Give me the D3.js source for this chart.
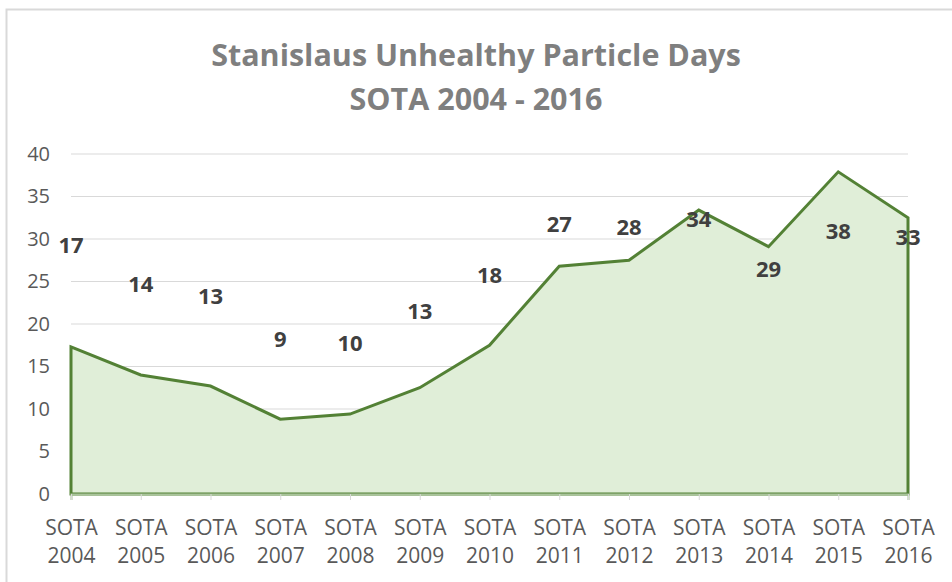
<!DOCTYPE html>
<html>
<head>
<meta charset="utf-8">
<script src="https://cdn.jsdelivr.net/npm/d3@7"></script>
<style>
  html, body { margin: 0; padding: 0; background: #fff; }
  svg text { font-family: 'Open Sans', Lato, sans-serif; }
  .grid line { stroke: #d9d9d9; stroke-width: 1; }
</style>
</head>
<body>
<svg id="chart" width="952" height="582"></svg>
<script>
  // categories along the bottom
  var YEARS = ['2004', '2005', '2006', '2007', '2008', '2009', '2010',
               '2011', '2012', '2013', '2014', '2015', '2016'];

  // plotted values
  var DAYS = [17.3, 14.0, 12.7, 8.8, 9.4, 12.5, 17.5, 26.8, 27.5, 33.4, 29.1, 37.9, 32.5];

  // the data labels as shown on the chart
  var LABELS = [17, 14, 13, 9, 10, 13, 18, 27, 28, 34, 29, 38, 33];

  // where each data label sits, in axis units (labels were dragged around in the original)
  var LABEL_LEVEL = [29.3, 24.7, 23.3, 18.2, 17.7, 21.5, 25.8, 31.8, 31.4, 32.4, 26.5, 30.9, 30.2];

  var Y_TICKS = [0, 5, 10, 15, 20, 25, 30, 35, 40];

  var TITLE = ['Stanislaus Unhealthy Particle Days', 'SOTA 2004 - 2016'];

  var svg = d3.select('#chart'),

      margin = { left: 71, right: 44, top: 154, bottom: 88 },
      width = 952 - margin.left - margin.right,
      height = 582 - margin.top - margin.bottom,

      x = d3.scalePoint().domain(YEARS).range([0, width]),
      y = d3.scaleLinear().domain([0, 40]).range([height, 0]),

      g = svg.append('g').attr('transform', 'translate(' + margin.left + ',' + margin.top + ')');

  // chart frame (only left and top edges visible in the crop)
  svg.append('rect')
    .attr('x', 6.5).attr('y', 9.5)
    .attr('width', 1000).attr('height', 700)
    .attr('fill', 'none')
    .attr('stroke', '#d9d9d9')
    .attr('stroke-width', 2);

  // title
  svg.append('g').selectAll('text')
    .data(TITLE)
    .enter().append('text')
      .attr('x', 476)
      .attr('y', function(d, i) { return 66 + i * 44; })
      .attr('text-anchor', 'middle')
      .attr('fill', '#7f7f7f')
      .attr('font-size', '30.5px')
      .attr('font-weight', 'bold')
      .text(function(d) { return d; });

  // gridlines
  g.append('g')
    .attr('class', 'grid')
    .selectAll('line')
    .data(Y_TICKS.filter(function(t) { return t > 0; }))
    .enter().append('line')
      .attr('x1', 0).attr('x2', width)
      .attr('y1', function(d) { return y(d); })
      .attr('y2', function(d) { return y(d); });

  // y axis labels
  var yAxis = g.append('g')
    .call(d3.axisLeft(y).tickValues(Y_TICKS).tickSize(0).tickPadding(21));
  yAxis.select('.domain').remove();
  yAxis.selectAll('text')
    .attr('fill', '#595959')
    .attr('font-size', '20px')
    .attr('font-family', "'Open Sans', sans-serif");

  // area + outline
  var rows = YEARS.map(function(yr, i) { return { year: yr, value: DAYS[i] }; }),

      area = d3.area()
        .x(function(d) { return x(d.year); })
        .y0(y(0))
        .y1(function(d) { return y(d.value); });

  g.append('path')
    .datum(rows)
    .attr('d', area)
    .attr('fill', '#e0eed8')
    .attr('stroke', '#538135')
    .attr('stroke-width', 3)
    .attr('stroke-linejoin', 'miter');

  // x axis
  var xAxis = g.append('g')
    .attr('transform', 'translate(0,' + height + ')')
    .call(d3.axisBottom(x).tickSize(6).tickFormat(''));
  xAxis.select('.domain').attr('stroke', '#a9c49b').attr('stroke-width', 2);
  xAxis.selectAll('.tick line').attr('stroke', '#d9d9d9');

  var tickText = xAxis.selectAll('.tick').append('text')
    .attr('fill', '#595959')
    .attr('font-size', '21px')
    .attr('font-family', "'Open Sans', sans-serif")
    .attr('text-anchor', 'middle');
  tickText.append('tspan').attr('x', 0).attr('y', 41).text('SOTA');
  tickText.append('tspan').attr('x', 0).attr('y', 69).text(function(d) { return d; });

  // data labels
  g.append('g').selectAll('text')
    .data(rows)
    .enter().append('text')
      .attr('x', function(d) { return x(d.year); })
      .attr('y', function(d, i) { return y(LABEL_LEVEL[i]); })
      .attr('dy', '0.36em')
      .attr('text-anchor', 'middle')
      .attr('fill', '#404040')
      .attr('font-size', '22px')
      .attr('font-weight', 'bold')
      .text(function(d, i) { return LABELS[i]; });
</script>
</body>
</html>
